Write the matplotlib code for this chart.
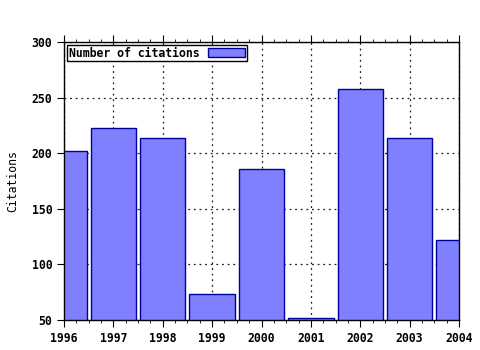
import numpy as np
import matplotlib
matplotlib.use('Agg')
import matplotlib.pyplot as plt
from matplotlib.ticker import MultipleLocator

# data
years = [1996, 1997, 1998, 1999, 2000, 2001, 2002, 2003, 2004]
citations = [202, 223, 214, 73, 186, 52, 258, 214, 122]

plt.rcParams['font.family'] = 'DejaVu Sans Mono'
plt.rcParams['font.weight'] = 'bold'
plt.rcParams['font.size'] = 8.3

fig = plt.figure(figsize=(4.8, 3.5), dpi=100)
ax = fig.add_axes([64 / 480, 30 / 350, 395 / 480, 278 / 350])

ax.bar(years, citations, width=0.92, bottom=0, color='#8080ff',
       edgecolor='#00009a', linewidth=1.0, label='Number of citations', zorder=2)

ax.set_xlim(1996, 2004)
ax.set_ylim(50, 300)
ax.set_xticks(years)
ax.xaxis.set_minor_locator(MultipleLocator(0.25))
ax.set_yticks(np.arange(50, 301, 50))

ax.grid(True, linestyle=(0, (1.5, 3)), color='#202020', linewidth=0.9, zorder=1)
ax.set_axisbelow(True)

ax.tick_params(axis='x', which='both', direction='out', top=True, bottom=True)
ax.tick_params(axis='x', which='major', length=5)
ax.tick_params(axis='x', which='minor', length=2.5)
ax.tick_params(axis='y', which='major', direction='out', length=5, right=False)
for s in ax.spines.values():
    s.set_linewidth(1.0)

ax.set_ylabel('Citations', labelpad=9)

leg = ax.legend(loc='upper left', markerfirst=False, fancybox=False,
                framealpha=1, edgecolor='black', borderpad=0.15,
                handlelength=3.2, handleheight=0.8, borderaxespad=0.25,
                handletextpad=0.8)
leg.get_frame().set_linewidth(1.0)

fig.savefig('out.png', dpi=100)
